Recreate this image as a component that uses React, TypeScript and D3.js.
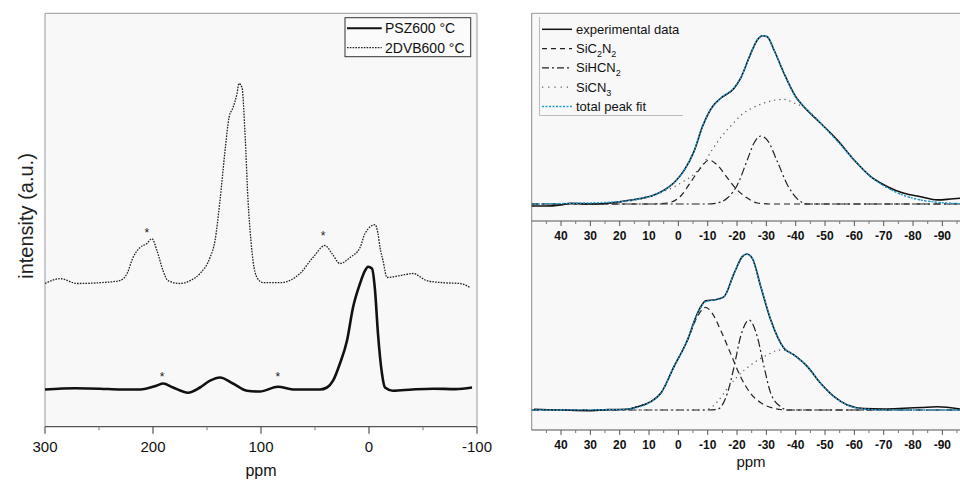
import React from "react";
import * as d3 from "d3";

type P = [number, number];

// ---------- Left panel data (ppm, intensity a.u.) ----------
const leftMajorTicks = [300, 200, 100, 0, -100];
const leftMinorTicks = [250, 150, 50, -50];

const psz600: P[] = [
  [300, 9.3], [272, 9.6], [249, 9.5], [230, 9.3], [212, 9.3], [196.3, 10.3], [190.7, 10.8], [181.5, 9.8],
  [167.6, 8.5], [156.5, 9.8], [147.2, 11.5], [138, 12.3], [126, 10.8], [113, 9], [101, 8.8],
  [84.3, 10], [70.4, 9.3], [45.4, 9.3], [38.9, 9.8], [33.3, 11.5], [26.9, 15.8], [20.4, 21.5],
  [14.8, 29.8], [8.3, 35.8], [3.7, 39], [0.9, 40], [-2.8, 39.5], [-5.6, 34], [-8.3, 23.3],
  [-12, 13.3], [-14.8, 9.8], [-22.2, 9], [-40, 9.3], [-59.3, 9.5], [-80, 9.4], [-95.4, 9.8],
];

const dvb600: P[] = [
  [300, 35.8], [286, 37], [270, 35.8], [249, 36], [231, 36.5], [224, 38.3], [218.5, 42.3],
  [212, 44.8], [205.6, 45.8], [201, 47], [196.3, 44], [190.7, 39], [186.1, 36.5], [175, 35.8],
  [165.7, 36.5], [156.5, 38.3], [147.2, 42.3], [142.6, 46.5], [138, 56.5], [133.3, 69],
  [129.6, 77.3], [125.9, 79.8], [122.2, 83.3], [120.4, 85.8], [117.6, 84.8], [114.8, 73.3],
  [112, 56.5], [109.3, 46.5], [107.4, 41.5], [103.7, 37.3], [98.1, 36], [82.4, 36],
  [63.9, 38.3], [51.9, 42.3], [40.7, 45.3], [34.3, 43.3], [26.9, 40.8], [17.6, 42.3],
  [8.3, 44.8], [3.7, 48.3], [-5.6, 50.5], [-8.3, 48.3], [-10.2, 44.8], [-13, 41.5],
  [-16.7, 37.3], [-28.7, 37.8], [-40.7, 38.3], [-53.7, 36.5], [-68.5, 36], [-84.3, 35.8], [-93.5, 34.8],
];

const starMarks: P[] = [[205.6, 49], [42.6, 48.3], [191.7, 13], [84.3, 13]];

// ---------- Right panels data (ppm, intensity a.u.) ----------
const rightMajorTicks = [40, 30, 20, 10, 0, -10, -20, -30, -40, -50, -60, -70, -80, -90];
const rightMinorTicks = [45, 35, 25, 15, 5, -5, -15, -25, -35, -45, -55, -65, -75, -85, -95];

const expUpper: P[] = [
  [50.4, -1.2], [45.2, -1.2], [40, -0.5], [36.7, 0.4], [29.9, 0], [25, 0.3], [19.7, 1.4], [14, 2.9],
  [8.3, 5.3], [4.9, 8.2], [1.5, 12.5], [-1.9, 19.6], [-5.3, 30.8], [-8.2, 45.5], [-11.6, 57.2],
  [-14.4, 62.2], [-19, 68.1], [-21.2, 73.9], [-24.7, 88.6], [-26.9, 96.5], [-28.6, 99],
  [-30.3, 98.4], [-32.6, 90.6], [-36, 76.9], [-40, 63.1], [-42.8, 57.2], [-48.5, 47.5],
  [-54.2, 37.6], [-59.9, 25.9], [-65.6, 16.1], [-71.3, 10.2], [-76.9, 6.3], [-82.6, 4.3],
  [-88.3, 2.4], [-92.8, 2.9], [-96.3, 3.4],
];
const fitUpper: P[] = [
  [50.4, 0], [36.7, 0.4], [19.7, 1.4], [14, 2.9], [8.3, 5.3], [4.9, 8], [1.5, 12.5], [-1.9, 19.6],
  [-5.3, 31], [-8.2, 45.5], [-11.6, 57], [-14.4, 62.2], [-19, 68.5], [-21.2, 74], [-24.7, 88.6],
  [-26.9, 96.5], [-28.6, 99], [-30.3, 98.4], [-32.6, 90.6], [-36, 77], [-40, 63], [-42.8, 57.5],
  [-48.5, 47.5], [-54.2, 37], [-59.9, 26], [-65.6, 16], [-71.3, 9.5], [-76.9, 5], [-82.6, 2.4],
  [-88.3, 1], [-96.3, 0.2],
];
const sic2n2Upper: P[] = [
  [50, 0], [10, 0], [3.8, 0.6], [-0.8, 4.7], [-4.2, 12.9], [-7.6, 21.2], [-10.4, 25.9], [-13.3, 22.9],
  [-16.7, 15.3], [-20.1, 8.2], [-23.5, 3.5], [-26.9, 0.6], [-32, 0], [-100, 0],
];
const sihcn2Upper: P[] = [
  [50, 0], [-10, 0], [-13.3, 0.6], [-16.7, 3.5], [-20.1, 11.2], [-23.5, 25.9], [-25.8, 35.9],
  [-28.1, 40], [-30.3, 37.6], [-33.8, 24.7], [-37.2, 11.2], [-40.6, 2.9], [-44, 0], [-100, 0],
];
const sicn3Upper: P[] = [
  [50, 0], [30, 0.2], [20, 1], [14, 2.5], [8.3, 5], [4.9, 7.5], [1.5, 10], [-1.9, 13.5], [-5.3, 17.5],
  [-8.2, 23], [-11.6, 32], [-14.4, 39], [-19, 48], [-21.2, 52], [-24.7, 56], [-28.6, 59],
  [-32.6, 61], [-36, 61.5], [-40, 59], [-42.8, 57], [-48.5, 47.5], [-54.2, 37], [-59.9, 26],
  [-65.6, 16], [-71.3, 9.5], [-76.9, 5], [-82.6, 2.4], [-88.3, 1], [-96.3, 0.2],
];

const expLower: P[] = [
  [49.2, 0.4], [40, 0], [31, -0.4], [24, 0.2], [17.4, 0.4], [14, 1.9], [9.4, 4.9], [6, 9.8], [1.5, 25.5],
  [-3.1, 41.2], [-6.5, 56.9], [-9.3, 64.2], [-12.7, 64.9], [-15.5, 66.5], [-19, 80.4],
  [-21.8, 90.2], [-23.3, 91.8], [-25.2, 89.2], [-28.1, 72.5], [-31.5, 52.9], [-36, 36.3],
  [-39.4, 32.4], [-44, 25.5], [-48.5, 15.7], [-53.1, 7.8], [-57.6, 2.9], [-63.3, 0.8],
  [-70, 0.6], [-76.9, 1], [-83, 1.5], [-88.3, 1.9], [-96.3, 0.4],
];
const fitLower: P[] = [
  [50, 0], [20, 0.2], [14, 1.5], [9.4, 4.8], [6, 9.8], [1.5, 25.5], [-3.1, 41.2], [-6.5, 56.5],
  [-9.3, 63.8], [-12.7, 64.8], [-15.5, 66.5], [-19, 80.4], [-21.8, 90], [-23.3, 91.8], [-25.2, 89.2],
  [-28.1, 72.5], [-31.5, 53], [-36, 36.5], [-39.4, 32.4], [-44, 25.5], [-48.5, 15.7], [-53.1, 7.8],
  [-57.6, 2.9], [-63.3, 0.6], [-70, 0], [-100, 0],
];
const sic2n2Lower: P[] = [
  [50, 0], [20, 0], [14, 1.9], [9.4, 4.9], [6, 9.8], [1.5, 25.5], [-3.1, 41], [-6.5, 55], [-9.3, 60.4],
  [-11.5, 57], [-14.4, 47], [-17.8, 33.3], [-21.2, 19.6], [-24.6, 9.8], [-28.1, 4.3], [-32.6, 1],
  [-37.2, 0], [-100, 0],
];
const sihcn2Lower: P[] = [
  [50, 0], [-10, 0], [-13.3, 0.4], [-16.7, 9.8], [-19, 25.5], [-21.2, 43.1], [-24.1, 52.9],
  [-26.9, 43.1], [-29.2, 25.5], [-31.5, 9.8], [-34.9, 1.9], [-37.2, 0], [-100, 0],
];
const sicn3Lower: P[] = [
  [50, 0], [-8, 0], [-9.9, 0.4], [-13.3, 4.9], [-16.7, 12.7], [-20.1, 19.6], [-24.7, 26.5],
  [-29.2, 31.4], [-34.9, 35.3], [-37.2, 34.7], [-39.4, 32.4], [-44, 25.5], [-48.5, 15.7],
  [-53.1, 7.8], [-57.6, 2.9], [-63.3, 0.6], [-70, 0], [-100, 0],
];

const FONT = "'Liberation Sans', Arial, Helvetica, sans-serif";
const CYAN = "#1f9fd8";

export default function App() {
  // Left panel scales
  const xL = d3.scaleLinear().domain([300, -100]).range([45, 477]);
  const yL = d3.scaleLinear().domain([0, 103]).range([426.7, 14.7]);
  const lineL = d3
    .line<P>()
    .x((d) => xL(d[0]))
    .y((d) => yL(d[1]))
    .curve(d3.curveMonotoneX);

  // Right panel scales
  const xR = d3.scaleLinear().domain([50, -100]).range([531.7, 971.7]);
  const yRU = d3.scaleLinear().domain([0, 100]).range([204, 34]);
  const yRL = d3.scaleLinear().domain([0, 100]).range([410, 240]);
  const lineU = d3
    .line<P>()
    .x((d) => xR(d[0]))
    .y((d) => yRU(d[1]))
    .curve(d3.curveMonotoneX);
  const lineLo = d3
    .line<P>()
    .x((d) => xR(d[0]))
    .y((d) => yRL(d[1]))
    .curve(d3.curveMonotoneX);

  const leftBottom = 426.7;
  const rightUpperAxis = 221;
  const rightLowerAxis = 430;

  const legendR = [
    { label: ["experimental data"], dash: "none", color: "#111", w: 1.5 },
    { label: ["SiC", "2", "N", "2"], dash: "5,4", color: "#222", w: 1.2 },
    { label: ["SiHCN", "2"], dash: "7,3,2,3", color: "#222", w: 1.2 },
    { label: ["SiCN", "3"], dash: "1.2,5", color: "#555", w: 1.2 },
    { label: ["total peak fit"], dash: "2,1.5", color: CYAN, w: 1.5 },
  ];

  const renderLabel = (parts: string[]) =>
    parts.map((p, i) =>
      i % 2 === 1 ? (
        <tspan key={i} fontSize={9} dy={4}>
          {p}
        </tspan>
      ) : (
        <tspan key={i} dy={i === 0 ? 0 : -4}>
          {p}
        </tspan>
      )
    );

  return (
    <svg
      width={960}
      height={480}
      style={{ position: "absolute", left: 0, top: 0, background: "#fff" }}
      fontFamily={FONT}
    >
      <defs>
        <clipPath id="clipR">
          <rect x={531.7} y={13} width={440} height={420} />
        </clipPath>
        <clipPath id="clipL">
          <rect x={45} y={13} width={432} height={414} />
        </clipPath>
      </defs>

      {/* ---------------- LEFT PANEL ---------------- */}
      <rect x={45} y={13.3} width={432} height={leftBottom - 13.3} fill="#f8f8f8" />
      <line x1={45} x2={477} y1={13.3} y2={13.3} stroke="#999" strokeWidth={1} />
      <line x1={45} x2={45} y1={13.3} y2={leftBottom} stroke="#999" strokeWidth={1} />
      <line x1={477} x2={477} y1={13.3} y2={leftBottom} stroke="#999" strokeWidth={1} />
      <line x1={45} x2={477} y1={leftBottom} y2={leftBottom} stroke="#555" strokeWidth={1.2} />
      {leftMajorTicks.map((t) => (
        <g key={"lm" + t}>
          <line x1={xL(t)} x2={xL(t)} y1={leftBottom} y2={leftBottom + 7} stroke="#555" strokeWidth={1.2} />
          <text x={xL(t)} y={452} textAnchor="middle" fontSize={15} fill="#111">
            {t}
          </text>
        </g>
      ))}
      {leftMinorTicks.map((t) => (
        <line key={"ln" + t} x1={xL(t)} x2={xL(t)} y1={leftBottom} y2={leftBottom + 3.5} stroke="#777" strokeWidth={1} />
      ))}
      <text x={261} y={476} textAnchor="middle" fontSize={16} fill="#111">
        ppm
      </text>
      <text
        transform={`translate(33,216) rotate(-90)`}
        textAnchor="middle"
        fontSize={20}
        fill="#222"
      >
        intensity (a.u.)
      </text>

      <g clipPath="url(#clipL)">
        <path d={lineL(dvb600) || ""} fill="none" stroke="#222" strokeWidth={1.3} strokeDasharray="1.6,1.2" />
        <path d={lineL(psz600) || ""} fill="none" stroke="#111" strokeWidth={2.6} />
      </g>
      {starMarks.map((s, i) => (
        <text key={"s" + i} x={xL(s[0])} y={yL(s[1]) + 6} textAnchor="middle" fontSize={12} fill="#222">
          *
        </text>
      ))}

      {/* left legend */}
      <rect x={345} y={17.7} width={125.7} height={39} fill="#fff" fillOpacity={0.4} stroke="#333" strokeWidth={1} />
      <line x1={347} x2={381.7} y1={28.3} y2={28.3} stroke="#111" strokeWidth={2} />
      <text x={385} y={33.3} fontSize={14} fill="#111">
        PSZ600 °C
      </text>
      <line x1={347} x2={381.7} y1={47.7} y2={47.7} stroke="#222" strokeWidth={1.3} strokeDasharray="1.6,1.2" />
      <text x={385} y={52.7} fontSize={14} fill="#111">
        2DVB600 °C
      </text>

      {/* ---------------- RIGHT PANEL ---------------- */}
      <rect x={531.7} y={13.3} width={430} height={rightLowerAxis - 13.3} fill="#f8f8f8" />
      <line x1={531.7} x2={960} y1={13.3} y2={13.3} stroke="#999" strokeWidth={1} />
      <line x1={531.7} x2={531.7} y1={13.3} y2={rightLowerAxis} stroke="#888" strokeWidth={1} />
      <line x1={531.7} x2={960} y1={rightUpperAxis} y2={rightUpperAxis} stroke="#555" strokeWidth={1.2} />
      <line x1={531.7} x2={960} y1={rightLowerAxis} y2={rightLowerAxis} stroke="#555" strokeWidth={1.2} />
      {[rightUpperAxis, rightLowerAxis].map((ay) => (
        <g key={"ax" + ay}>
          {rightMajorTicks.map((t) => (
            <g key={"rm" + t}>
              <line x1={xR(t)} x2={xR(t)} y1={ay} y2={ay + 5} stroke="#555" strokeWidth={1} />
              <text
                x={xR(t)}
                y={ay === rightUpperAxis ? 239.5 : 448.5}
                textAnchor="middle"
                fontSize={12}
                fontWeight="bold"
                fill="#111"
              >
                {t}
              </text>
            </g>
          ))}
          {rightMinorTicks.map((t) => (
            <line key={"rn" + t} x1={xR(t)} x2={xR(t)} y1={ay} y2={ay + 3} stroke="#777" strokeWidth={1} />
          ))}
        </g>
      ))}
      <text x={751} y={467} textAnchor="middle" fontSize={15} fill="#111">
        ppm
      </text>

      <g clipPath="url(#clipR)">
        {/* upper */}
        <path d={lineU(sicn3Upper) || ""} fill="none" stroke="#555" strokeWidth={1.2} strokeDasharray="1.2,4" />
        <path d={lineU(sic2n2Upper) || ""} fill="none" stroke="#222" strokeWidth={1.2} strokeDasharray="6,4" />
        <path d={lineU(sihcn2Upper) || ""} fill="none" stroke="#222" strokeWidth={1.2} strokeDasharray="8,3,2,3" />
        <path d={lineU(expUpper) || ""} fill="none" stroke="#111" strokeWidth={1.6} />
        <path d={lineU(fitUpper) || ""} fill="none" stroke={CYAN} strokeWidth={1.4} strokeDasharray="2,1.5" />
        {/* lower */}
        <path d={lineLo(sicn3Lower) || ""} fill="none" stroke="#555" strokeWidth={1.2} strokeDasharray="1.2,4" />
        <path d={lineLo(sic2n2Lower) || ""} fill="none" stroke="#222" strokeWidth={1.2} strokeDasharray="6,4" />
        <path d={lineLo(sihcn2Lower) || ""} fill="none" stroke="#222" strokeWidth={1.2} strokeDasharray="8,3,2,3" />
        <path d={lineLo(expLower) || ""} fill="none" stroke="#111" strokeWidth={1.6} />
        <path d={lineLo(fitLower) || ""} fill="none" stroke={CYAN} strokeWidth={1.4} strokeDasharray="2,1.5" />
      </g>

      {/* right legend */}
      <line x1={539.5} x2={539.5} y1={17} y2={115.5} stroke="#bbb" strokeWidth={1} />
      <line x1={539.5} x2={683} y1={115.5} y2={115.5} stroke="#bbb" strokeWidth={1} />
      {legendR.map((e, i) => {
        const ly = 29.3 + i * 19.3;
        return (
          <g key={"lg" + i}>
            <line x1={542} x2={572} y1={ly} y2={ly} stroke={e.color} strokeWidth={e.w} strokeDasharray={e.dash} />
            <text x={576} y={ly + 4.5} fontSize={13} fill="#111">
              {renderLabel(e.label)}
            </text>
          </g>
        );
      })}
    </svg>
  );
}
